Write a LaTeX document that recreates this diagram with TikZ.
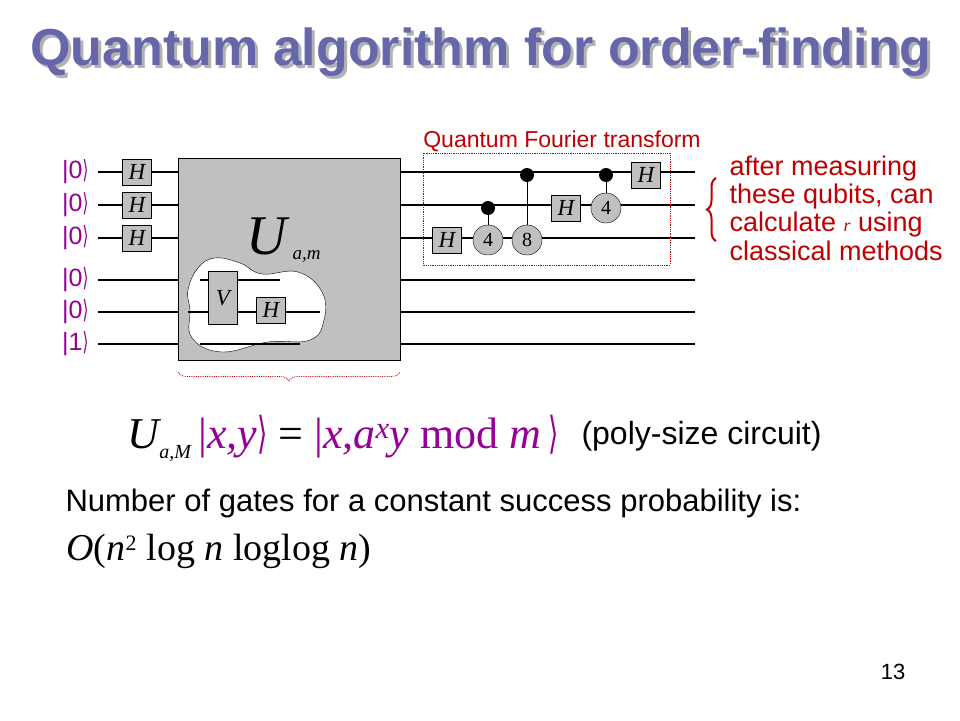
\documentclass[tikz,border=0pt]{standalone}
\usepackage{fontspec}
\setmainfont{Liberation Serif}
\newfontfamily\arialf{Liberation Sans}
\newfontfamily\djv{DejaVu Sans}
\usetikzlibrary{decorations.pathreplacing}
\definecolor{ttl}{RGB}{102,102,170}
\definecolor{pur}{RGB}{150,0,150}
\definecolor{rd}{RGB}{190,0,0}
\definecolor{gg}{RGB}{192,192,192}
\newcommand{\fs}[1]{\fontsize{#1}{#1}\selectfont}
\newcommand{\rang}{\scalebox{0.6}[1]{\djv\upshape ⟩}}
\begin{document}
\begin{tikzpicture}[x=1pt,y=-1pt,
  wire/.style={line width=2pt},
  hg/.style={draw,fill=gg,minimum width=29pt,minimum height=26pt,inner sep=0pt,font=\itshape\fs{23}},
  cg/.style={draw,fill=gg,circle,minimum size=30pt,inner sep=0pt,font=\fs{20}},
  dot/.style={fill,circle,minimum size=14pt,inner sep=0pt},
  ket/.style={text=pur,font=\arialf\fs{25},anchor=east},
  rtxt/.style={text=rd,font=\arialf\fs{27}\linespread{1.05}\selectfont}]
\useasboundingbox (0,0) rectangle (960,720);
\node[text=gray!60,font=\arialf\bfseries\fs{52}] at (484,55) {Quantum algorithm for order-finding};
\node[text=ttl,font=\arialf\bfseries\fs{52}] (title) at (481,52) {Quantum algorithm for order-finding};
% wires
\foreach \y/\n in {172/a,205/b,238/c,280/d,312/e,344/f}{
  \coordinate (L\n) at (98,\y); \coordinate (R\n) at (695,\y);
  \draw[wire] (L\n) -- (R\n);}
\foreach \y/\t in {172/0,205/0,238/0,280/0,312/0,344/1}
  \node[ket] at (92,\y) {\textbar\t\rang};
% U box
\node[draw,fill=gg,minimum width=222pt,minimum height=202pt,inner sep=0pt] (U) at (289,259) {};
\draw[fill=white] plot[smooth cycle,tension=0.7] coordinates {(198,268) (215,258) (240,263) (262,274) (298,272) (322,292) (324,320) (310,340) (268,342) (222,352) (192,338) (190,310) (188,290)};
\draw[wire] (188,312) -- (320,312);
\draw[wire] (200,280) -- (280,280);
\draw[wire] (200,344) -- (300,344);
\node[draw,fill=gg,minimum width=29pt,minimum height=53pt,inner sep=0pt,font=\itshape\fs{23}] (V) at (223,298) {V};
\node[hg] (H5) at (271,310) {H};
\node[font=\fs{56}\itshape,anchor=base east] (Ul) at (290,254) {U};
\node[font=\fs{19}\itshape,anchor=base west] (Ulsub) at (289,259) {a,m};
\node[hg] (H1) at (137,172) {H};
\node[hg] (H2) at (137,205) {H};
\node[hg] (H3) at (137,238) {H};
% QFT
\draw[rd,densely dotted,thick] (423,153) rectangle (670,265);
\node[rtxt,font=\arialf\fs{23}] (qft) at (562,141) {Quantum Fourier transform};
\node[hg] (q1) at (447,240) {H};
\node[dot] (d1) at (488,208) {};
\node[cg] (c1) at (488,240) {4};
\draw[thick] (d1) -- (c1);
\node[dot] (d2) at (527,175) {};
\node[cg] (c2) at (527,240) {8};
\draw[thick] (d2) -- (c2);
\node[hg] (q2) at (566,208) {H};
\node[dot] (d3) at (606,175) {};
\node[cg] (c3) at (606,208) {4};
\draw[thick] (d3) -- (c3);
\node[hg] (q3) at (646,175) {H};
% brace
\draw[rd,line width=2pt,decorate,decoration={brace,amplitude=9pt}] (716,241) -- (716,178);
\node[rtxt,anchor=north west,align=left] (meas) at (726,152) {after measuring\\these qubits, can\\calculate {\rmfamily\itshape\fs{18}r} using\\classical methods};
\draw[rd,densely dotted,thick,decorate,decoration={brace,amplitude=9pt,mirror}] (178,372) -- (400,372);
% formula
\node[anchor=base west,font=\fs{44}] (f) at (124,448) {\itshape U{\fs{20}\raisebox{-10pt}{a,M}}\,\color{pur}\upshape|\itshape x,y\upshape\rang{} \color{black}= \color{pur}|\itshape x,a\textsuperscript{x}y \upshape mod \itshape m\,\upshape\rang};
\node[anchor=west,font=\arialf\fs{32}] (p) at (578,436) {(poly-size circuit)};
\node[anchor=west,font=\arialf\fs{31}] (n) at (62,503) {Number of gates for a constant success probability is:};
\node[anchor=base west,font=\fs{38}] (o) at (63,560) {\itshape O\upshape(\itshape n\textsuperscript{\upshape\fs{22}2} \upshape log \itshape n \upshape loglog \itshape n\upshape)};
\node[font=\arialf\fs{22}] (pg) at (893,672) {13};
\end{tikzpicture}
\end{document}
